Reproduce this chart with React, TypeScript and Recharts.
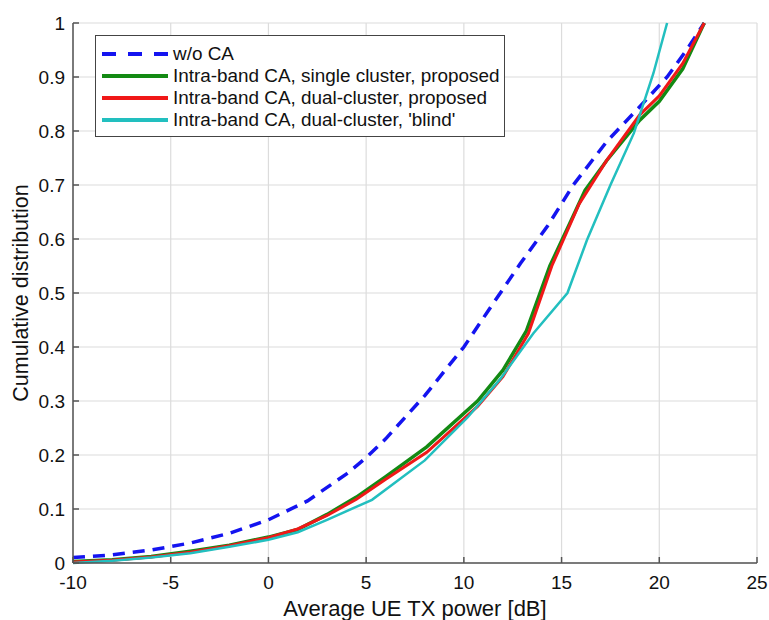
import { LineChart, Line, XAxis, YAxis, CartesianGrid, Legend } from "recharts";

const X_TICKS = [-10, -5, 0, 5, 10, 15, 20, 25];
const Y_TICKS = [0, 0.1, 0.2, 0.3, 0.4, 0.5, 0.6, 0.7, 0.8, 0.9, 1];

// [tx power dB, cdf]
const WO_CA = [
  [-10, 0.01], [-8, 0.015], [-6, 0.024], [-4, 0.037], [-2, 0.055], [0, 0.08],
  [2, 0.115], [4, 0.165], [5, 0.195], [6, 0.23], [8, 0.31], [10, 0.4],
  [11.3, 0.47], [12.9, 0.555], [14.3, 0.625], [15.6, 0.7], [17.3, 0.78],
  [19, 0.845], [20.4, 0.9], [21.4, 0.95], [22.3, 1.0],
];

const SINGLE_PROPOSED = [
  [-10, 0.003], [-8, 0.006], [-6, 0.012], [-4, 0.022], [-2, 0.033], [0, 0.048],
  [1.5, 0.062], [3, 0.09], [4.5, 0.122], [6, 0.16], [8.1, 0.215], [10.7, 0.3],
  [12, 0.357], [13.2, 0.43], [14.4, 0.55], [15.5, 0.635], [16.2, 0.69],
  [17.3, 0.745], [19, 0.82], [20, 0.855], [21.2, 0.915], [22.3, 1.0],
];

const DUAL_PROPOSED = [
  [-10, 0.002], [-8, 0.005], [-6, 0.011], [-4, 0.02], [-2, 0.032], [0, 0.047],
  [1.5, 0.063], [3, 0.088], [4.5, 0.118], [6, 0.155], [8.1, 0.205], [10.7, 0.29],
  [12, 0.345], [13.3, 0.425], [14.5, 0.55], [15.9, 0.665], [17.3, 0.745],
  [19, 0.83], [20, 0.865], [21.2, 0.925], [22.3, 1.0],
];

const DUAL_BLIND = [
  [-10, 0.0], [-8, 0.004], [-6, 0.01], [-4, 0.018], [-2, 0.03], [0, 0.043],
  [1.5, 0.057], [3, 0.08], [5.3, 0.117], [8, 0.19], [10.2, 0.27], [11.85, 0.34],
  [13.55, 0.425], [15.3, 0.5], [16.3, 0.598], [17.5, 0.7], [18.7, 0.796],
  [19.7, 0.907], [20.4, 1.0],
];

const toRows = (pts: number[][]) => pts.map(([x, y]) => ({ x, y }));

const SERIES = [
  { name: "w/o CA", data: WO_CA, color: "#1414f0", width: 3.5, dash: "12 8" },
  { name: "Intra-band CA, single cluster, proposed", data: SINGLE_PROPOSED, color: "#138a13", width: 3.5, dash: undefined },
  { name: "Intra-band CA, dual-cluster, proposed", data: DUAL_PROPOSED, color: "#f01818", width: 3, dash: undefined },
  { name: "Intra-band CA, dual-cluster, 'blind'", data: DUAL_BLIND, color: "#22bfbf", width: 2.5, dash: undefined },
];

const FONT = "'Liberation Sans', Arial, sans-serif";
const AXIS = "#555";

function LegendBox() {
  return (
    <div
      style={{
        border: "1.5px solid #444",
        background: "#fff",
        boxSizing: "border-box",
        width: 410,
        height: 102,
        padding: "7px 0 0 6px",
        fontFamily: FONT,
        fontSize: 18.9,
        color: "#111",
      }}
    >
      {SERIES.map((s) => (
        <div key={s.name} style={{ display: "flex", alignItems: "center", height: 22 }}>
          <svg width={66} height={10} style={{ marginRight: 5 }}>
            <line x1={0} y1={5} x2={66} y2={5} stroke={s.color} strokeWidth={4} strokeDasharray={s.dash ? "14 12" : undefined} />
          </svg>
          <span style={{ whiteSpace: "nowrap" }}>{s.name}</span>
        </div>
      ))}
    </div>
  );
}

export default function App() {
  return (
    <div style={{ position: "absolute", left: 0, top: 0, width: 769, height: 620, background: "#fff" }}>
      <LineChart width={769} height={620} margin={{ top: 23, right: 12, bottom: 4, left: 13 }}>
        <CartesianGrid stroke="#dcdcdc" strokeWidth={1.2} />
        <XAxis
          dataKey="x"
          type="number"
          domain={[-10, 25]}
          ticks={X_TICKS}
          allowDataOverflow
          height={53}
          tickSize={-6}
          tickMargin={19}
          stroke={AXIS}
          strokeWidth={1.5}
          tick={{ fill: "#111", fontSize: 19, fontFamily: FONT }}
          label={{ value: "Average UE TX power [dB]", position: "insideBottom", offset: 0, fill: "#111", fontSize: 22, fontFamily: FONT }}
        />
        <XAxis
          xAxisId="top"
          orientation="top"
          type="number"
          domain={[-10, 25]}
          ticks={X_TICKS}
          height={0}
          tick={false}
          tickSize={-6}
          stroke={AXIS}
          strokeWidth={1.5}
        />
        <YAxis
          type="number"
          domain={[0, 1]}
          ticks={Y_TICKS}
          width={60}
          tickSize={-6}
          tickMargin={14}
          stroke={AXIS}
          strokeWidth={1.5}
          tick={{ fill: "#111", fontSize: 19, fontFamily: FONT }}
          label={{
            value: "Cumulative distribution",
            angle: -90,
            position: "insideLeft",
            offset: 7,
            fill: "#111",
            fontSize: 21.5,
            fontFamily: FONT,
            style: { textAnchor: "middle" },
          }}
        />
        <YAxis
          yAxisId="right"
          orientation="right"
          type="number"
          domain={[0, 1]}
          ticks={Y_TICKS}
          width={0}
          tick={false}
          tickSize={-6}
          stroke={AXIS}
          strokeWidth={1.5}
        />
        {SERIES.map((s) => (
          <Line
            key={s.name}
            name={s.name}
            data={toRows(s.data)}
            dataKey="y"
            type="linear"
            stroke={s.color}
            strokeWidth={s.width}
            strokeDasharray={s.dash}
            dot={false}
            activeDot={false}
            isAnimationActive={false}
          />
        ))}
        <Legend
          layout="vertical"
          verticalAlign="middle"
          align="center"
          content={() => <LegendBox />}
          wrapperStyle={{ position: "absolute", left: 95, top: 35, width: 410, height: 102 }}
        />
      </LineChart>
    </div>
  );
}
